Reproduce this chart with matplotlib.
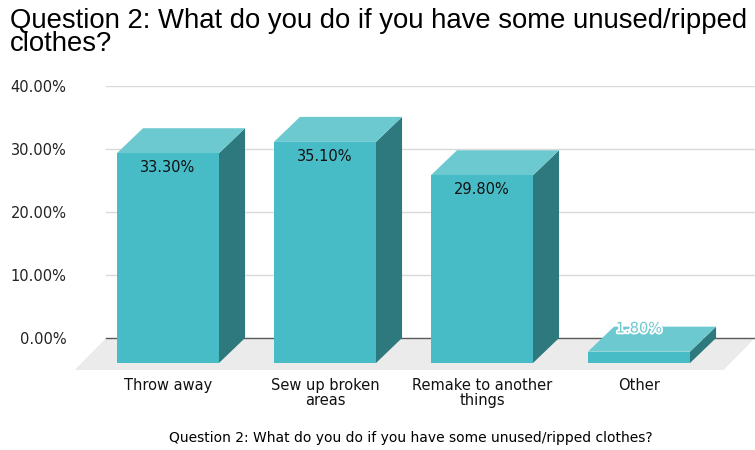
import matplotlib.pyplot as plt
import matplotlib.patheffects as pe

# Data
categories = ['Throw away', 'Sew up broken\nareas', 'Remake to another\nthings', 'Other']
values = [33.30, 35.10, 29.80, 1.80]
value_labels = ['33.30%', '35.10%', '29.80%', '1.80%']
yticks = [0, 10, 20, 30, 40]
ytick_labels = ['0.00%', '10.00%', '20.00%', '30.00%', '40.00%']
title = 'Question 2: What do you do if you have some unused/ripped\nclothes?'
axis_title = 'Question 2: What do you do if you have some unused/ripped clothes?'

# Colours
front_col = '#48bcc6'
top_col = '#6dc9d0'
side_col = '#2e797d'
floor_col = '#ebebeb'
grid_col = '#d9d9d9'
zero_col = '#5a5a5a'

# 3D look (depth offset in data units)
bar_w = 0.65
dx = 0.166
dy = 3.97
floor_dx = 0.2
floor_dy = 5.08
x_left, x_right = -0.758, 3.573

fig = plt.figure(figsize=(7.55, 4.5), dpi=100)
ax = fig.add_axes([75 / 755, 80 / 450, 680 / 755, 284 / 450])
ax.set_xlim(x_left, x_right)
ax.set_ylim(-floor_dy, 40)

# Floor
ax.fill([-0.56, x_right, x_right - floor_dx, -0.56 - floor_dx],
        [0, 0, -floor_dy, -floor_dy], color=floor_col, lw=0, zorder=1)

# Gridlines on the back wall
for t in yticks[1:]:
    ax.plot([-0.56, x_right], [t, t], color=grid_col, lw=1, zorder=2)
ax.plot([-0.56, x_right], [0, 0], color=zero_col, lw=1, zorder=2)

# Bars
for i, v in enumerate(values):
    bl, br = i - bar_w / 2, i + bar_w / 2  # back plane
    fl, fr = bl - dx, br - dx              # front face
    # side
    ax.fill([fr, br, br, fr], [-dy, 0, v, v - dy], color=side_col, lw=0, zorder=3)
    # top
    ax.fill([fl, bl, br, fr], [v - dy, v, v, v - dy], color=top_col, lw=0, zorder=3)
    # front
    ax.fill([fl, fr, fr, fl], [-dy, -dy, v - dy, v - dy], color=front_col, lw=0, zorder=4)

    cx = i - dx
    if v > 5:
        ax.annotate(value_labels[i], (cx, v - dy), xytext=(0, -5), textcoords='offset points',
                    ha='center', va='top', fontsize=10.5, color='#111111', zorder=5)
    else:
        t = ax.annotate(value_labels[i], (cx, v), xytext=(0, -1), textcoords='offset points',
                        ha='center', va='center', fontsize=10.5, color=top_col, zorder=5)
        t.set_path_effects([pe.withStroke(linewidth=2.5, foreground='white')])

    ax.annotate(categories[i], (cx, 0), xycoords=('data', 'axes fraction'),
                xytext=(0, -6), textcoords='offset points',
                ha='center', va='top', fontsize=10.5, linespacing=0.95, color='#111111')

ax.set_yticks(yticks)
ax.set_yticklabels(ytick_labels, fontsize=10.5, color='#222222')
ax.tick_params(axis='y', length=0, pad=6)
ax.set_xticks([])
for s in ax.spines.values():
    s.set_visible(False)

fig.text(10 / 755, 1 - 8 / 450, title, ha='left', va='top', fontsize=19.8,
         family='Liberation Sans', linespacing=0.85)
fig.text(411 / 755, 1 - 438 / 450, axis_title, ha='center', va='center', fontsize=10)

fig.savefig('out.png', dpi=100)
